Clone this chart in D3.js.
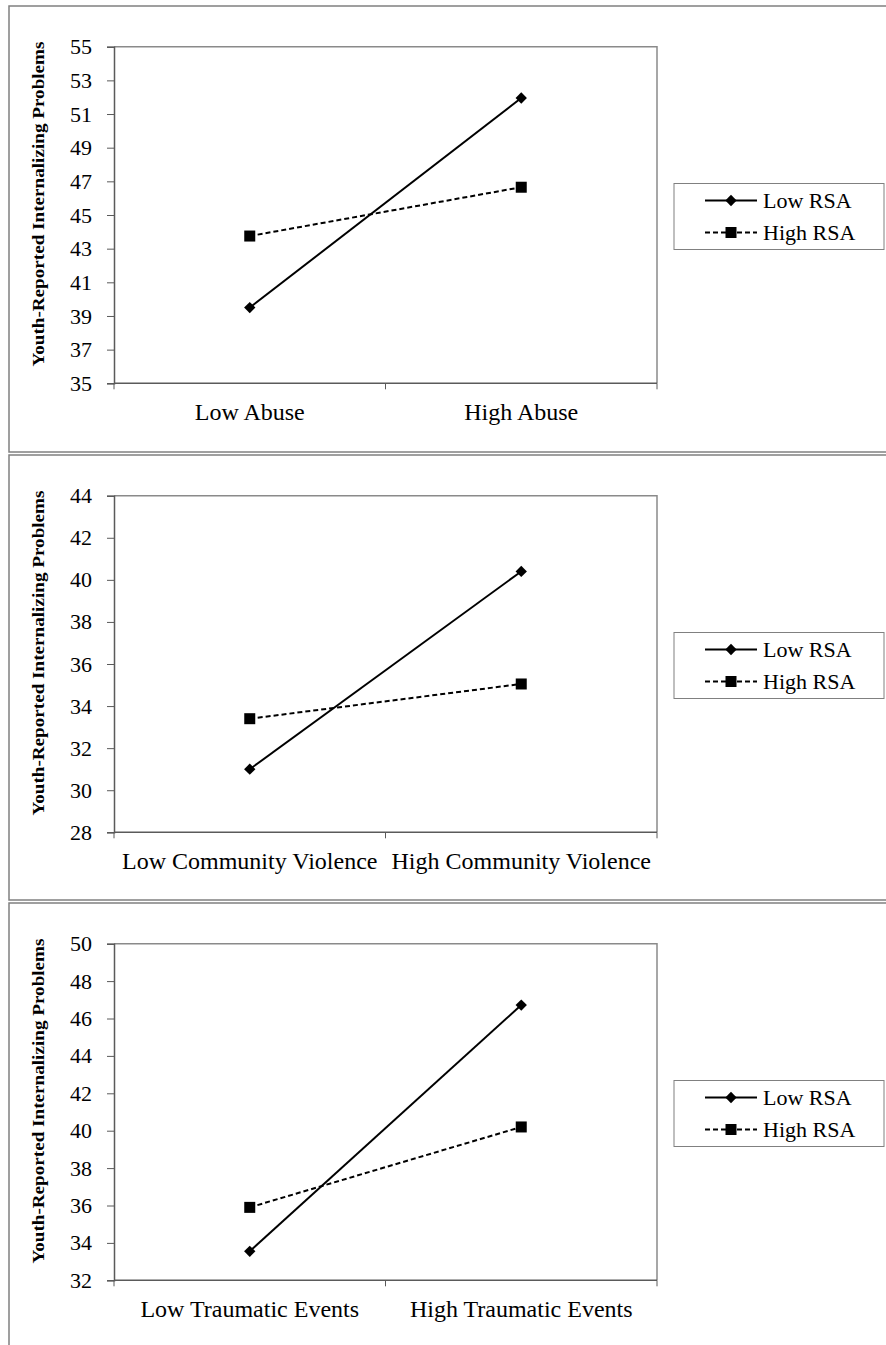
<!DOCTYPE html>
<html><head><meta charset="utf-8">
<script src="https://cdn.jsdelivr.net/npm/d3@7"></script>
<style>body{margin:0;background:#fff} svg{display:block}</style>
</head><body><svg id="c" width="886" height="1345"></svg>
<script>
// ---------- data ----------
const seriesNames = ["Low RSA", "High RSA"];
const yTitle = "Youth-Reported Internalizing Problems";

const abuseCategories = ["Low Abuse", "High Abuse"];
const abuseLowRSA = [39.5, 51.95];
const abuseHighRSA = [43.75, 46.65];
const abuseTicks = [35, 37, 39, 41, 43, 45, 47, 49, 51, 53, 55];

const violenceCategories = ["Low Community Violence", "High Community Violence"];
const violenceLowRSA = [31.0, 40.4];
const violenceHighRSA = [33.4, 35.05];
const violenceTicks = [28, 30, 32, 34, 36, 38, 40, 42, 44];

const traumaCategories = ["Low Traumatic Events", "High Traumatic Events"];
const traumaLowRSA = [33.55, 46.72];
const traumaHighRSA = [35.9, 40.2];
const traumaTicks = [32, 34, 36, 38, 40, 42, 44, 46, 48, 50];

// ---------- layout ----------
const panels = [
  {cats: abuseCategories, low: abuseLowRSA, high: abuseHighRSA, ticks: abuseTicks, frameTop: 6, frameBottom: 452},
  {cats: violenceCategories, low: violenceLowRSA, high: violenceHighRSA, ticks: violenceTicks, frameTop: 455, frameBottom: 900},
  {cats: traumaCategories, low: traumaLowRSA, high: traumaHighRSA, ticks: traumaTicks, frameTop: 903, frameBottom: 1400}
];
const FONT = "'Liberation Serif', 'Times New Roman', serif";
const plotLeft = 114, plotRight = 657;
const svg = d3.select("#c");

panels.forEach(p => {
  const g = svg.append("g");
  g.append("rect").attr("x", 9).attr("y", p.frameTop)
    .attr("width", 900).attr("height", p.frameBottom - p.frameTop)
    .attr("fill", "none").attr("stroke", "#808080").attr("stroke-width", 1.5);

  const plotTop = p.frameTop + 40.7;
  const plotBottom = plotTop + 336.6;
  const y = d3.scaleLinear().domain(d3.extent(p.ticks)).range([plotBottom, plotTop]);
  const x = d3.scaleBand().domain(p.cats).range([plotLeft, plotRight]).padding(0);

  g.append("path")
    .attr("d", `M${plotLeft},${plotTop}H${plotRight}V${plotBottom}`)
    .attr("fill", "none").attr("stroke", "#8a8a8a").attr("stroke-width", 1.5);

  const ya = g.append("g").attr("transform", `translate(${plotLeft},0)`)
    .call(d3.axisLeft(y).tickValues(p.ticks).tickSize(7).tickPadding(15).tickFormat(d3.format("d")));
  ya.select(".domain").attr("stroke", "#5a5a5a").attr("stroke-width", 1.5);
  ya.selectAll(".tick line").attr("stroke", "#5a5a5a").attr("stroke-width", 1);
  ya.selectAll(".tick text").attr("font-family", FONT).attr("font-size", 22).attr("fill", "#000");

  g.append("line").attr("x1", plotLeft).attr("x2", plotRight)
    .attr("y1", plotBottom).attr("y2", plotBottom)
    .attr("stroke", "#5a5a5a").attr("stroke-width", 1.5);
  const bounds = p.cats.map(c => x(c)).concat([x(p.cats[p.cats.length - 1]) + x.bandwidth()]);
  g.selectAll(".bt").data(bounds).join("line")
    .attr("x1", d => d).attr("x2", d => d)
    .attr("y1", plotBottom).attr("y2", plotBottom + 6)
    .attr("stroke", "#5a5a5a").attr("stroke-width", 1);
  g.selectAll(".cl").data(p.cats).join("text")
    .attr("x", d => x(d) + x.bandwidth() / 2).attr("y", plotBottom + 37)
    .attr("text-anchor", "middle").attr("font-family", FONT).attr("font-size", 24)
    .text(d => d);

  const tc = (plotTop + plotBottom) / 2 - 11;
  g.append("text").attr("transform", `translate(44,${tc}) rotate(-90)`)
    .attr("text-anchor", "middle").attr("font-family", FONT).attr("font-weight", "bold")
    .attr("font-size", 17).attr("textLength", 325).attr("lengthAdjust", "spacingAndGlyphs")
    .text(yTitle);

  const cx = d => x(d) + x.bandwidth() / 2;
  const line = d3.line().x(d => cx(d.c)).y(d => y(d.v));
  const lowPts = p.cats.map((c, i) => ({c, v: p.low[i]}));
  const highPts = p.cats.map((c, i) => ({c, v: p.high[i]}));

  g.append("path").attr("d", line(highPts)).attr("fill", "none")
    .attr("stroke", "#000").attr("stroke-width", 2).attr("stroke-dasharray", "5,3");
  g.append("path").attr("d", line(lowPts)).attr("fill", "none")
    .attr("stroke", "#000").attr("stroke-width", 2);

  const diamond = d3.symbol().type(d3.symbolSquare).size(64);
  g.selectAll(".dm").data(lowPts).join("path")
    .attr("d", diamond).attr("transform", d => `translate(${cx(d.c)},${y(d.v)}) rotate(45)`)
    .attr("fill", "#000");
  g.selectAll(".sq").data(highPts).join("rect")
    .attr("x", d => cx(d.c) - 5.5).attr("y", d => y(d.v) - 5.5)
    .attr("width", 11).attr("height", 11).attr("fill", "#000");

  const lc = (plotTop + plotBottom) / 2 + 1.5;
  g.append("rect").attr("x", 674).attr("y", lc - 33).attr("width", 210).attr("height", 66)
    .attr("fill", "#fff").attr("stroke", "#808080").attr("stroke-width", 1);
  seriesNames.forEach((name, i) => {
    const ly = lc - 16 + i * 32;
    g.append("line").attr("x1", 705).attr("x2", 757).attr("y1", ly).attr("y2", ly)
      .attr("stroke", "#000").attr("stroke-width", 2)
      .attr("stroke-dasharray", i === 1 ? "5,3" : null);
    if (i === 0) {
      g.append("path").attr("d", diamond).attr("transform", `translate(731,${ly}) rotate(45)`).attr("fill", "#000");
    } else {
      g.append("rect").attr("x", 731 - 5.5).attr("y", ly - 5.5).attr("width", 11).attr("height", 11).attr("fill", "#000");
    }
    g.append("text").attr("x", 763).attr("y", ly).attr("dy", "0.35em")
      .attr("font-family", FONT).attr("font-size", 22).text(name);
  });
});
</script></body></html>
